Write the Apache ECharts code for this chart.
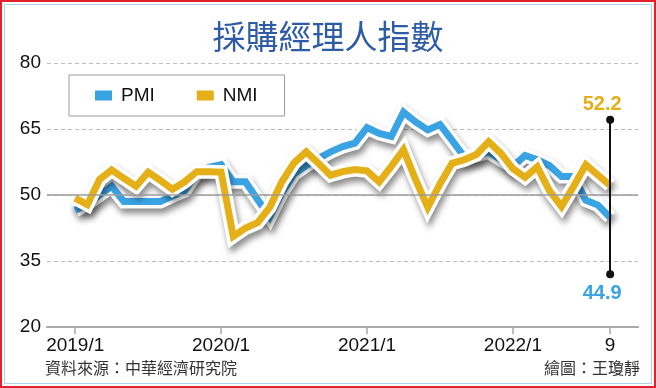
<!DOCTYPE html>
<html>
<head>
<meta charset="utf-8">
<script src="https://cdn.jsdelivr.net/npm/echarts@6/dist/echarts.min.js"></script>
<style>
html,body{margin:0;padding:0;background:#fff;}
#c{width:656px;height:388px;}
</style>
</head>
<body>
<div id="c"></div>
<script>
// ---- data ----
const months = ['2019/1','2019/2','2019/3','2019/4','2019/5','2019/6','2019/7','2019/8','2019/9','2019/10','2019/11','2019/12',
  '2020/1','2020/2','2020/3','2020/4','2020/5','2020/6','2020/7','2020/8','2020/9','2020/10','2020/11','2020/12',
  '2021/1','2021/2','2021/3','2021/4','2021/5','2021/6','2021/7','2021/8','2021/9','2021/10','2021/11','2021/12',
  '2022/1','2022/2','2022/3','2022/4','2022/5','2022/6','2022/7','2022/8','2022/9'];
const pmi = [46.5, 48.0, 50.0, 52.0, 48.5, 48.5, 48.5, 48.5, 49.8, 51.0,
  55.0, 56.3, 56.9, 53.0, 53.0, 49.0, 45.0, 50.5, 54.8, 56.7,
  58.3, 59.8, 61.0, 61.8, 65.3, 64.0, 63.3, 68.8, 66.6, 64.8,
  66.0, 62.4, 58.7, 59.0, 59.8, 58.0, 56.5, 59.0, 58.0, 56.7,
  54.2, 54.2, 48.8, 47.7, 44.9];
const nmi = [49.3, 47.8, 53.5, 55.7, 53.8, 52.0, 55.2, 53.3, 51.3, 53.0,
  55.3, 55.3, 55.2, 40.6, 42.5, 43.7, 47.2, 53.0, 57.3, 59.8,
  57.2, 54.5, 55.3, 55.8, 55.5, 53.0, 56.5, 60.3, 53.5, 47.2,
  52.5, 57.2, 58.0, 59.2, 62.1, 59.5, 56.0, 54.0, 56.4, 51.0,
  47.4, 52.0, 56.9, 54.5, 52.2];
const tickLabels = ['2019/1', '2020/1', '2021/1', '2022/1', '9'];
const tickMonths = ['2019/1', '2020/1', '2021/1', '2022/1', '2022/9'];
const yTicks = [20, 35, 50, 65, 80];
const seriesNames = ['PMI', 'NMI'];
// annotation bracket ends and label anchors (y values)
const annoTop = 67.1, annoBottom = 32.0, labelTopY = 70.5, labelBottomY = 27.7;

// ---- styling ----
const BLUE = '#3aa3e4', GOLD = '#e4af17';
const tickIdx = tickMonths.map(m => months.indexOf(m));
const last = months.length - 1;
const toXY = arr => arr.map((v, i) => [i, v]);
const latin = '"Liberation Sans", Arial, sans-serif';
const cjk = '"Noto Sans CJK TC", "Noto Sans CJK SC", sans-serif';

const outline = (name, data, extra) => Object.assign({
  name: name, type: 'line', data: toXY(data), symbol: 'none', silent: true,
  lineStyle: { color: '#fff', width: 14, join: 'miter', miterLimit: 6,
    shadowColor: 'rgba(0,0,0,0.45)', shadowBlur: 6, shadowOffsetX: 2, shadowOffsetY: 5 }
}, extra || {});
const colored = (name, data, color, labelVal, extra) => Object.assign({
  name: name, type: 'line', data: toXY(data), symbol: 'none', silent: true,
  itemStyle: { color: color },
  lineStyle: { color: color, width: 7, join: 'miter', miterLimit: 6 },
  markPoint: {
    silent: true, symbol: 'circle', symbolSize: 0,
    label: { show: true, position: 'inside', offset: [-8, 0], color: color,
      fontFamily: latin, fontSize: 20, fontWeight: 'bold', formatter: () => data[last].toFixed(1) },
    data: [{ coord: [last, labelVal] }]
  }
}, extra || {});

const chart = echarts.init(document.getElementById('c'), null, { renderer: 'canvas' });
chart.setOption({
  animation: false,
  backgroundColor: '#fff',
  title: {
    text: '採購經理人指數', left: 'center', top: 11,
    textStyle: { fontFamily: cjk, fontSize: 33, fontWeight: 'normal', color: '#2d5ba6', lineHeight: 40 }
  },
  legend: {
    data: seriesNames, left: 69, top: 75, orient: 'horizontal',
    backgroundColor: '#fff', borderColor: '#9a9a9a', borderWidth: 1,
    padding: [11, 27, 11, 26], itemGap: 42, itemWidth: 17, itemHeight: 10, icon: 'rect',
    selectedMode: false,
    textStyle: { fontFamily: latin, fontSize: 19, color: '#111', padding: [0, 0, 0, 4] }
  },
  grid: { left: 47, right: 18, top: 63, bottom: 61 },
  xAxis: {
    type: 'value', min: -2.32, max: 46.29,
    splitLine: { show: false },
    axisLine: { show: true, onZero: false, lineStyle: { color: '#a9a9a9', width: 2 } },
    axisTick: { show: true, customValues: tickIdx, length: 7, lineStyle: { color: '#a9a9a9', width: 1.5 } },
    axisLabel: { customValues: tickIdx, margin: 9, color: '#111', fontFamily: latin, fontSize: 19,
      formatter: v => tickLabels[tickIdx.indexOf(Math.round(v))] }
  },
  yAxis: {
    type: 'value', min: yTicks[0], max: yTicks[yTicks.length - 1], interval: 15,
    axisLine: { show: false }, axisTick: { show: false },
    axisLabel: { margin: 6, color: '#111', fontFamily: latin, fontSize: 19 },
    splitLine: { show: true, lineStyle: { color: '#bdbdbd', type: [4, 3], width: 1 } }
  },
  series: [
    {
      name: 'ref50', type: 'line', data: toXY(pmi), symbol: 'none', silent: true,
      lineStyle: { opacity: 0 },
      markLine: { silent: true, symbol: 'none', label: { show: false },
        lineStyle: { color: '#9b9b9b', width: 1.5, type: 'solid' },
        data: [{ yAxis: 50 }] }
    },
    {
      name: 'bracket', type: 'line', data: toXY(pmi), symbol: 'none', silent: true,
      lineStyle: { opacity: 0 },
      markLine: { silent: true, symbol: ['circle', 'circle'], symbolSize: 8, label: { show: false },
        lineStyle: { color: '#111', width: 2, type: 'solid' },
        data: [[{ coord: [last, annoTop] }, { coord: [last, annoBottom] }]] }
    },
    outline('PMI-o', pmi),
    colored('PMI', pmi, BLUE, labelBottomY),
    outline('NMI-o', nmi),
    colored('NMI', nmi, GOLD, labelTopY)
  ],
  graphic: [
    { type: 'rect', silent: true, shape: { x: 1, y: 1, width: 654, height: 386 },
      style: { fill: 'transparent', stroke: '#e4202a', lineWidth: 2 } },
    { type: 'rect', silent: true, shape: { x: 4.5, y: 4.5, width: 647, height: 379 },
      style: { fill: 'transparent', stroke: '#a9d3ef', lineWidth: 1 } },
    { type: 'text', silent: true, x: 45, y: 368,
      style: { text: '資料來源：中華經濟研究院', fill: '#333', font: '16px ' + cjk, verticalAlign: 'middle', align: 'left' } },
    { type: 'text', silent: true, x: 640, y: 368,
      style: { text: '繪圖：王瓊靜', fill: '#333', font: '16px ' + cjk, verticalAlign: 'middle', align: 'right' } }
  ]
});
</script>
</body>
</html>
